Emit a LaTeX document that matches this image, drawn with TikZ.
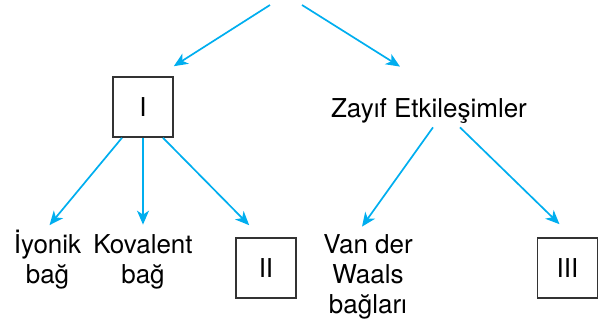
\documentclass[tikz,border=0pt]{standalone}
\usepackage{fontspec}
\setmainfont{TeX Gyre Heros}
\usetikzlibrary{arrows.meta}
\definecolor{linkblue}{RGB}{0,174,239}
\tikzset{
  box/.style  = {draw=black!80, line width=0.8pt, rectangle, minimum size=30pt, inner sep=0pt, font=\fontsize{13}{15}\selectfont},
  txt/.style  = {align=center, inner sep=2pt, font=\fontsize{13}{15}\selectfont},
  link/.style = {->, draw=linkblue, line width=0.85pt}
}

\begin{document}
\begin{tikzpicture}[x=0.5pt, y=-0.5pt, >={Stealth[length=7pt,width=6pt,inset=2pt]}]
\useasboundingbox (0,0) rectangle (607,327);

% Top (open ends)
\coordinate (t1) at (270,5);
\coordinate (t2) at (302,5);

% Second row
\node [box] (b1) at (143,107) {I};
\node [txt, anchor=base] (w) at (429,117) {Zayıf Etkileşimler};

% Third row (base = last line)
\node [txt, anchor=base] (c1) at (47.5,283) {İyonik\\bağ};
\node [txt, anchor=base] (c2) at (143,283) {Kovalent\\bağ};
\node [box] (b2) at (266,268) {II};
\node [txt, anchor=base] (c4) at (368,313) {Van der\\Waals\\bağları};
\node [box] (b3) at (567.5,268) {III};

% Connections
\draw[link] (t1) -- ([yshift=5pt]b1.north east);
\draw[link] (t2) -- ([xshift=-14.5pt,yshift=13.5pt]w.north);

\draw[link] ([xshift=-10.5pt]b1.south) -- ([xshift=1pt]c1.north);
\draw[link] (b1.south) -- ([yshift=2.5pt]c2.north);
\draw[link] ([xshift=10pt]b1.south) -- ([xshift=7pt,yshift=6pt]b2.north west);

\draw[link] ([xshift=2pt]w.south) -- ([xshift=-3pt,yshift=1.5pt]c4.north);
\draw[link] ([xshift=15.5pt]w.south) -- ([xshift=-4pt,yshift=6.5pt]b3.north);

\end{tikzpicture}
\end{document}
